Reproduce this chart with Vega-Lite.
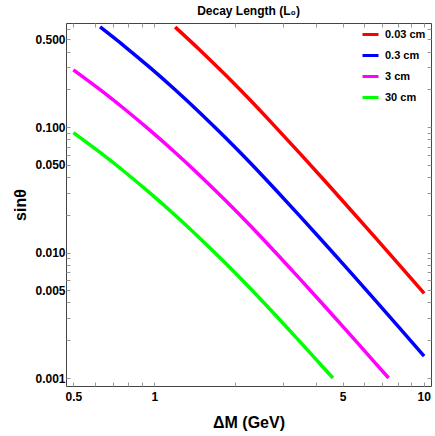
{
  "$schema": "https://vega.github.io/schema/vega-lite/v6.json",
  "width": 365,
  "height": 363,
  "autosize": "none",
  "padding": {"left": 66, "top": 23, "right": 4, "bottom": 50},
  "background": "white",
  "config": {
    "view": {"stroke": "#444444", "strokeWidth": 1},
    "font": "Liberation Sans"
  },
  "title": {
    "text": "Decay Length (L₀)",
    "font": "Liberation Sans",
    "fontSize": 12,
    "fontWeight": "bold",
    "color": "black",
    "anchor": "middle",
    "offset": 5
  },
  "data": {
    "values": [
      {"s": "0.03 cm", "x": 1.194, "y": 0.627},
      {"s": "0.03 cm", "x": 1.478, "y": 0.4097},
      {"s": "0.03 cm", "x": 1.83, "y": 0.2621},
      {"s": "0.03 cm", "x": 2.268, "y": 0.1642},
      {"s": "0.03 cm", "x": 2.808, "y": 0.1009},
      {"s": "0.03 cm", "x": 3.477, "y": 0.06137},
      {"s": "0.03 cm", "x": 4.307, "y": 0.03698},
      {"s": "0.03 cm", "x": 5.333, "y": 0.02215},
      {"s": "0.03 cm", "x": 6.604, "y": 0.01321},
      {"s": "0.03 cm", "x": 8.179, "y": 0.007841},
      {"s": "0.03 cm", "x": 10.04, "y": 0.004733},
      {"s": "0.3 cm", "x": 0.6284, "y": 0.6276},
      {"s": "0.3 cm", "x": 0.7785, "y": 0.4363},
      {"s": "0.3 cm", "x": 0.9638, "y": 0.2973},
      {"s": "0.3 cm", "x": 1.194, "y": 0.1983},
      {"s": "0.3 cm", "x": 1.478, "y": 0.1296},
      {"s": "0.3 cm", "x": 1.83, "y": 0.08289},
      {"s": "0.3 cm", "x": 2.268, "y": 0.05192},
      {"s": "0.3 cm", "x": 2.808, "y": 0.03192},
      {"s": "0.3 cm", "x": 3.477, "y": 0.01941},
      {"s": "0.3 cm", "x": 4.307, "y": 0.0117},
      {"s": "0.3 cm", "x": 5.333, "y": 0.007006},
      {"s": "0.3 cm", "x": 6.604, "y": 0.004177},
      {"s": "0.3 cm", "x": 8.179, "y": 0.00248},
      {"s": "0.3 cm", "x": 10.04, "y": 0.001497},
      {"s": "3 cm", "x": 0.5, "y": 0.2858},
      {"s": "3 cm", "x": 0.6284, "y": 0.1985},
      {"s": "3 cm", "x": 0.7785, "y": 0.138},
      {"s": "3 cm", "x": 0.9638, "y": 0.09401},
      {"s": "3 cm", "x": 1.194, "y": 0.0627},
      {"s": "3 cm", "x": 1.478, "y": 0.04097},
      {"s": "3 cm", "x": 1.83, "y": 0.02621},
      {"s": "3 cm", "x": 2.268, "y": 0.01642},
      {"s": "3 cm", "x": 2.808, "y": 0.01009},
      {"s": "3 cm", "x": 3.477, "y": 0.006137},
      {"s": "3 cm", "x": 4.307, "y": 0.003698},
      {"s": "3 cm", "x": 5.333, "y": 0.002215},
      {"s": "3 cm", "x": 6.604, "y": 0.001321},
      {"s": "3 cm", "x": 7.413, "y": 0.001},
      {"s": "30 cm", "x": 0.5, "y": 0.0904},
      {"s": "30 cm", "x": 0.6284, "y": 0.06276},
      {"s": "30 cm", "x": 0.7785, "y": 0.04363},
      {"s": "30 cm", "x": 0.9638, "y": 0.02973},
      {"s": "30 cm", "x": 1.194, "y": 0.01983},
      {"s": "30 cm", "x": 1.478, "y": 0.01296},
      {"s": "30 cm", "x": 1.83, "y": 0.008289},
      {"s": "30 cm", "x": 2.268, "y": 0.005192},
      {"s": "30 cm", "x": 2.808, "y": 0.003192},
      {"s": "30 cm", "x": 3.477, "y": 0.001941},
      {"s": "30 cm", "x": 4.307, "y": 0.00117},
      {"s": "30 cm", "x": 4.603, "y": 0.001}
    ]
  },
  "resolve": {"axis": {"x": "independent", "y": "independent"}},
  "layer": [
    {
      "mark": {"type": "line", "strokeWidth": 3.5, "clip": true, "interpolate": "monotone"},
      "encoding": {
        "x": {
          "field": "x", "type": "quantitative",
          "scale": {"type": "log", "domain": [0.4695, 10.65], "nice": false},
          "axis": {
            "title": "ΔM (GeV)",
            "values": [0.5, 0.6, 0.7, 0.8, 0.9, 1, 2, 3, 4, 5, 6, 7, 8, 9, 10],
            "labelExpr": "indexof([0.5,1,5,10], datum.value) >= 0 ? datum.value : ''",
            "grid": false, "domain": false,
            "tickSize": -4, "tickColor": "#999999",
            "labelFont": "Liberation Sans", "labelFontSize": 12, "labelFontWeight": "bold", "labelColor": "black",
            "labelPadding": 9,
            "titleFont": "Liberation Sans", "titleFontSize": 16, "titleFontWeight": "bold", "titleColor": "black",
            "titlePadding": 12
          }
        },
        "y": {
          "field": "y", "type": "quantitative",
          "scale": {"type": "log", "domain": [0.000864, 0.675], "nice": false},
          "axis": {
            "title": "sinθ",
            "values": [0.001, 0.002, 0.003, 0.004, 0.005, 0.006, 0.007, 0.008, 0.009, 0.01, 0.02, 0.03, 0.04, 0.05, 0.06, 0.07, 0.08, 0.09, 0.1, 0.2, 0.3, 0.4, 0.5, 0.6],
            "labelExpr": "indexof([0.001,0.005,0.01,0.05,0.1,0.5], datum.value) >= 0 ? format(datum.value, '.3f') : ''",
            "grid": false, "domain": false,
            "tickSize": -4, "tickColor": "#999999",
            "labelFont": "Liberation Sans", "labelFontSize": 12, "labelFontWeight": "bold", "labelColor": "black",
            "labelPadding": 5,
            "titleFont": "Liberation Sans", "titleFontSize": 16, "titleFontWeight": "bold", "titleColor": "black",
            "titlePadding": 6
          }
        },
        "color": {
          "field": "s", "type": "nominal",
          "scale": {"domain": ["0.03 cm", "0.3 cm", "3 cm", "30 cm"], "range": ["#ff0000", "#0000ff", "#ff00ff", "#00ff00"]},
          "legend": {
            "title": null,
            "orient": "none",
            "legendX": 295,
            "legendY": 2,
            "symbolType": "stroke",
            "symbolSize": 256,
            "symbolStrokeWidth": 3,
            "labelFont": "Liberation Sans", "labelFontSize": 11, "labelFontWeight": "bold", "labelColor": "black",
            "rowPadding": 5,
            "labelOffset": 5
          }
        }
      }
    },
    {
      "mark": {"type": "line", "opacity": 0},
      "encoding": {
        "x": {
          "field": "x", "type": "quantitative",
          "axis": {
            "orient": "top", "title": null, "labels": false,
            "values": [0.5, 0.6, 0.7, 0.8, 0.9, 1, 2, 3, 4, 5, 6, 7, 8, 9, 10],
            "grid": false, "domain": false,
            "tickSize": -4, "tickColor": "#999999"
          }
        },
        "y": {
          "field": "y", "type": "quantitative",
          "axis": {
            "orient": "right", "title": null, "labels": false,
            "values": [0.001, 0.002, 0.003, 0.004, 0.005, 0.006, 0.007, 0.008, 0.009, 0.01, 0.02, 0.03, 0.04, 0.05, 0.06, 0.07, 0.08, 0.09, 0.1, 0.2, 0.3, 0.4, 0.5, 0.6],
            "grid": false, "domain": false,
            "tickSize": -4, "tickColor": "#999999"
          }
        },
        "detail": {"field": "s", "type": "nominal"}
      }
    }
  ]
}
